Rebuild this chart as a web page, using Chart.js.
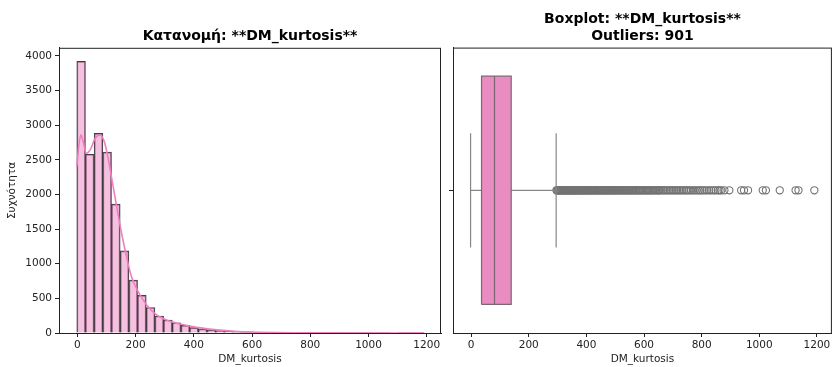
<!DOCTYPE html>
<html>
<head>
<meta charset="utf-8">
<script src="https://cdn.jsdelivr.net/npm/chart.js@4.4.1/dist/chart.umd.min.js"></script>
<style>
  html, body { margin: 0; padding: 0; background: #fff; overflow: hidden; }
  #wrap { position: relative; width: 835px; height: 367px; overflow: hidden; }
  #histWrap { position: absolute; left: 0; top: 0; width: 450px; height: 367px; }
  #boxWrap { position: absolute; left: 445px; top: 0; width: 392px; height: 367px; }
</style>
</head>
<body>
<div id="wrap">
  <div id="histWrap"><canvas id="histChart"></canvas></div>
  <div id="boxWrap"><canvas id="boxChart"></canvas></div>
</div>
<script>
// datos del histograma (40 bins)
const binMin = -1.98;
const binWidth = 29.82;
const binCounts = [3920, 2580, 2880, 2610, 1860, 1185, 762, 544, 368, 245,
  188, 148, 110, 78, 60, 45, 35, 28, 22, 18,
  14, 11, 9, 7, 6, 5, 4, 3, 3, 2,
  2, 2, 1, 1, 1, 1, 0, 1, 1, 1];

// curva kde
const kdeX = [-2, 5, 12, 20, 31, 45, 60, 77, 90, 100, 117, 135, 152, 169, 186, 209, 238, 272, 306, 352, 386, 430, 480, 540, 600, 680, 760, 850, 950, 1050, 1191];
const kdeY = [2400, 2700, 2860, 2760, 2595, 2650, 2800, 2860, 2790, 2640, 2257, 1824, 1440, 1100, 813, 596, 404, 260, 188, 130, 101, 70, 45, 25, 14, 7, 4, 2, 1, 1, 0];

// estadísticos del boxplot
const boxMin = -2;
const boxQ1 = 36;
const boxMedian = 81;
const boxQ3 = 139;
const boxUpper = 295;
const outliers = [296, 298, 300, 302, 305, 307, 309, 312, 314, 316, 319, 321, 324, 326, 328, 331, 333, 336, 338, 341,
  343, 346, 348, 351, 353, 356, 358, 361, 364, 366, 369, 372, 374, 377, 380, 383, 385, 388, 391, 394,
  397, 400, 402, 405, 408, 411, 414, 417, 420, 423, 426, 429, 432, 435, 438, 441, 444, 447, 450, 453,
  457, 460, 463, 466, 469, 473, 476, 479, 482, 486, 489, 492, 496, 499, 502, 506, 509, 513, 516, 520,
  523, 527, 530, 534, 537, 541, 545, 548, 552, 556, 559, 563, 567, 571, 574, 578, 582, 586, 590, 594,
  598, 602, 606, 610, 614, 618, 622, 626, 630, 634, 638, 643, 647, 651, 655, 660, 666, 671, 676, 682,
  688, 693, 699, 705, 711, 716, 722, 727, 733, 739, 745, 750, 757, 763, 770, 776, 783, 790, 796, 803,
  810, 818, 826, 833, 841, 848, 856, 862, 868, 879, 896, 937, 947, 961, 1012, 1023, 1071, 1126, 1136, 1191];

const xTicks = [0, 200, 400, 600, 800, 1000, 1200];
const yTicks = [0, 500, 1000, 1500, 2000, 2500, 3000, 3500, 4000];

Chart.defaults.font.family = "'DejaVu Sans', sans-serif";
Chart.defaults.color = "#222";
Chart.defaults.animation = false;

const ink = "#222";
const pinkBox = "#e88cc2";
const grayLine = "#878787";
const boxEdge = "#7d6673";

//plugin que dibuja el marco del área del gráfico
const frame = {
  id: "frame",
  afterDraw(chart) {
    const a = chart.chartArea;
    const ctx = chart.ctx;
    ctx.save();
    ctx.strokeStyle = ink;
    ctx.lineWidth = 1;
    ctx.strokeRect(a.left + 0.5, a.top + 0.5, a.right - a.left - 1, a.bottom - a.top);
    ctx.restore();
  },
};

function xAxis(min, max) {
  return {
    type: "linear",
    min: min,
    max: max,
    offset: false,
    afterBuildTicks: (s) => { s.ticks = xTicks.map((v) => ({ value: v })); },
    afterFit: (s) => { s.height = 34; },
    ticks: { font: { size: 10.5 }, color: ink, padding: 2, maxRotation: 0, callback: (v) => String(v) },
    grid: { offset: false, drawOnChartArea: false, drawTicks: true, tickLength: 4, color: ink },
    border: { display: true, color: ink },
    title: { display: true, text: "DM_kurtosis", font: { size: 10.5 }, color: ink, padding: { top: 0, bottom: 1 } },
  };
}

// histograma + kde
const histBars = binCounts.map((c, i) => ({ x: binMin + binWidth * (i + 0.5), y: c }));
const kdePoints = kdeX.map((x, i) => ({ x: x, y: kdeY[i] }));

new Chart(document.getElementById("histChart"), {
  type: "bar",
  data: {
    datasets: [
      {
        type: "line",
        data: kdePoints,
        borderColor: "#ef7fbf",
        borderWidth: 1.6,
        pointRadius: 0,
        cubicInterpolationMode: "monotone",
        order: 0,
      },
      {
        type: "bar",
        data: histBars,
        backgroundColor: "rgba(238,140,198,0.55)",
        borderColor: "rgba(30,30,30,0.85)",
        borderWidth: 1,
        barPercentage: 1,
        categoryPercentage: 1,
        grouped: false,
        order: 1,
      },
    ],
  },
  options: {
    responsive: true,
    maintainAspectRatio: false,
    layout: { padding: { left: 0, right: 9, top: 0, bottom: 0 } },
    plugins: {
      legend: { display: false },
      tooltip: { enabled: false },
      title: {
        display: true,
        fullSize: false,
        text: "Κατανομή: **DM_kurtosis**",
        font: { size: 14, weight: "bold" },
        color: "#000",
        padding: { top: 28, bottom: 3 },
      },
    },
    scales: {
      x: xAxis(-63, 1249),
      y: {
        type: "linear",
        min: 0,
        max: 4116,
        afterBuildTicks: (s) => { s.ticks = yTicks.map((v) => ({ value: v })); },
        afterFit: (s) => { s.width = 59; },
        ticks: { font: { size: 10.5 }, color: ink, padding: 3, callback: (v) => String(v) },
        grid: { drawOnChartArea: false, drawTicks: true, tickLength: 4, color: ink },
        border: { display: true, color: ink },
        title: { display: true, text: "Συχνότητα", font: { size: 10.5 }, color: ink, padding: { top: 6, bottom: 0 } },
      },
    },
  },
  plugins: [frame],
});

// boxplot
const boxPoly = [
  { x: boxQ1, y: -0.4 }, { x: boxQ3, y: -0.4 }, { x: boxQ3, y: 0.4 }, { x: boxQ1, y: 0.4 }, { x: boxQ1, y: -0.4 },
];
const lineStyle = { type: "line", borderColor: grayLine, borderWidth: 1.2, pointRadius: 0, fill: false, tension: 0 };

new Chart(document.getElementById("boxChart"), {
  type: "scatter",
  data: {
    datasets: [
      Object.assign({}, lineStyle, { order: 3, data: [{ x: boxMin, y: 0 }, { x: boxQ1, y: 0 }] }),
      Object.assign({}, lineStyle, { order: 3, data: [{ x: boxQ3, y: 0 }, { x: boxUpper, y: 0 }] }),
      Object.assign({}, lineStyle, { order: 3, data: [{ x: boxMin, y: -0.2 }, { x: boxMin, y: 0.2 }] }),
      Object.assign({}, lineStyle, { order: 3, data: [{ x: boxUpper, y: -0.2 }, { x: boxUpper, y: 0.2 }] }),
      {
        type: "line",
        order: 2,
        data: boxPoly,
        fill: "shape",
        backgroundColor: pinkBox,
        borderColor: boxEdge,
        borderWidth: 1.2,
        pointRadius: 0,
        tension: 0,
      },
      Object.assign({}, lineStyle, { order: 1, borderColor: boxEdge, data: [{ x: boxMedian, y: -0.4 }, { x: boxMedian, y: 0.4 }] }),
      {
        type: "scatter",
        order: 4,
        data: outliers.map((v) => ({ x: v, y: 0 })),
        pointRadius: 3.6,
        pointBorderWidth: 1.1,
        pointBackgroundColor: "rgba(255,255,255,0)",
        pointBorderColor: "#737373",
      },
    ],
  },
  options: {
    responsive: true,
    maintainAspectRatio: false,
    layout: { padding: { left: 0, right: 0, top: 0, bottom: 0 } },
    plugins: {
      legend: { display: false },
      tooltip: { enabled: false },
      title: {
        display: true,
        fullSize: false,
        text: ["Boxplot: **DM_kurtosis**", "Outliers: 901"],
        font: { size: 14, weight: "bold", lineHeight: 1.2 },
        color: "#000",
        padding: { top: 11, bottom: 3 },
      },
    },
    scales: {
      x: xAxis(-63, 1252),
      y: {
        type: "linear",
        min: -0.5,
        max: 0.5,
        afterBuildTicks: (s) => { s.ticks = [{ value: 0 }]; },
        afterFit: (s) => { s.width = 8; },
        ticks: { display: true, callback: () => "", padding: 0 },
        grid: { drawOnChartArea: false, drawTicks: true, tickLength: 4, color: ink },
        border: { display: true, color: ink },
      },
    },
  },
  plugins: [frame],
});
</script>
</body>
</html>
